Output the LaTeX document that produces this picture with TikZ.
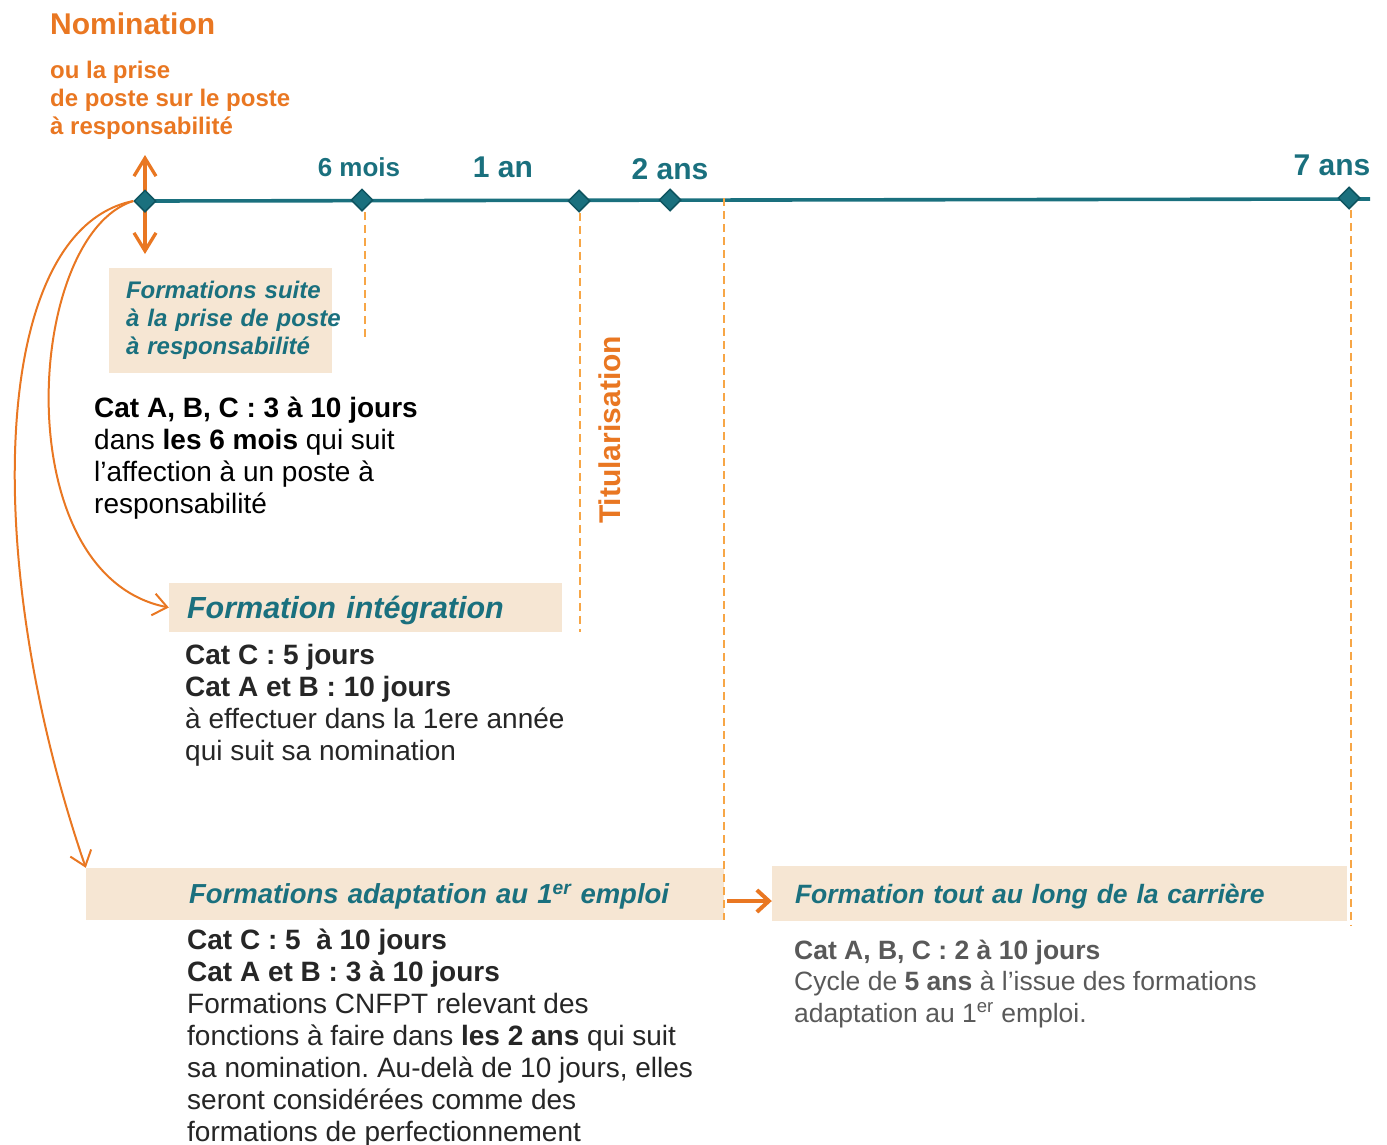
\documentclass[tikz,border=0pt]{standalone}
\usepackage{xcolor}
\usepackage{fontspec}
\setmainfont{Liberation Sans}
\frenchspacing
\usetikzlibrary{shapes.geometric, arrows.meta, positioning}

\definecolor{bleucanard}{RGB}{26,112,126}
\definecolor{bleufonce}{RGB}{14,84,96}
\definecolor{orangevif}{RGB}{233,119,34}
\definecolor{orangeclair}{RGB}{247,166,70}
\definecolor{beige}{RGB}{246,230,211}
\definecolor{grisfonce}{RGB}{38,38,38}
\definecolor{grismoyen}{RGB}{89,89,89}

\begin{document}
\begin{tikzpicture}[x=1pt, y=-1pt,
    jalon/.style={diamond, aspect=1, fill=bleucanard, draw=bleufonce, line width=1.5pt, minimum size=22pt, inner sep=0pt},
    duree/.style={text=bleucanard, font=\fontsize{30}{34}\selectfont\bfseries, inner sep=0pt, anchor=base},
    encadre/.style={fill=beige, text=bleucanard, inner xsep=0pt, inner ysep=0pt, align=left},
    corps/.style={inner sep=0pt, anchor=base west, align=left, font=\fontsize{28}{32}\selectfont},
    tiret/.style={orangeclair, line width=2pt, dash pattern=on 8pt off 5pt},
    courbe/.style={orangevif, line width=2pt, -{Straight Barb[length=14pt, width=22pt]}}]
        \useasboundingbox (0,0) rectangle (1387,1144);

        \coordinate (debut) at (145,201);
        \coordinate (fin)   at (1370,199);
        \draw[bleucanard, line width=3.6pt] (debut) -- (fin);
        \coordinate (haut) at (145,155);
        \coordinate (bas)  at (145,254);
        \draw[orangevif, line width=3.3pt, {Straight Barb[length=18pt, width=22pt]}-{Straight Barb[length=18pt, width=22pt]}] (haut) -- (bas);

        \node[jalon] (t0)  at (145,201)  {};
        \node[jalon] (t6)  at (362,200)  {};
        \node[jalon] (t12) at (579,201)  {};
        \node[jalon] (t24) at (670,200)  {};
        \node[jalon] (t84) at (1349,198) {};

        \node[duree, font=\fontsize{26}{30}\selectfont\bfseries] (l6) at (359,176) {6 mois};
        \node[duree] (l12) at (503,177)  {1 an};
        \node[duree] (l24) at (670,179)  {2 ans};
        \node[duree] (l84) at (1332,175) {7 ans};

        \node[corps, text=orangevif, font=\fontsize{30}{34}\selectfont\bfseries] (nomin) at (50,34) {Nomination};
        \node[corps, text=orangevif, font=\fontsize{24}{28}\selectfont\bfseries] (prise) at (50,134)
          {ou la prise\\de poste sur le poste\\à responsabilité};

        \node[encadre, font=\fontsize{24}{28}\selectfont\bfseries\itshape, text width=189pt,
          minimum width=223pt, minimum height=105pt] (suite) at (220.5,320.5)
          {\mbox{Formations suite}\\\mbox{à la prise de poste}\\\mbox{à responsabilité}};
        \node[encadre, font=\fontsize{30.5}{34}\selectfont\bfseries\itshape, text width=357pt, text depth=0pt,
          minimum width=393pt, minimum height=49pt] (integ) at (365.5,607.5) {Formation intégration};
        \node[encadre, font=\fontsize{27.5}{32}\selectfont\bfseries\itshape, text width=432pt, text depth=0pt,
          minimum width=638pt, minimum height=52pt] (adapt) at (405,894)
          {\mbox{Formations adaptation au 1\textsuperscript{er} emploi}};
        \node[encadre, font=\fontsize{26.5}{30}\selectfont\bfseries\itshape, text width=529pt, text depth=0pt,
          minimum width=575pt, minimum height=55pt] (carriere) at (1059.5,893.5)
          {Formation tout au long de la carrière};

        \node[rotate=90, anchor=base west, inner sep=0pt, text=orangevif,
          font=\fontsize{30}{34}\selectfont\bfseries] (titul) at (620,524) {Titularisation};

        \coordinate (b6)  at (365,340);
        \coordinate (b12) at (580,632);
        \coordinate (h24) at (724,198);
        \coordinate (b84) at (1351,925);
        \draw[tiret] (t6.south -| b6) -- (b6);
        \draw[tiret] (t12.south -| b12) -- (b12);
        \draw[tiret] (h24) -- (h24 |- adapt.south);
        \draw[tiret] (t84.south -| b84) -- (b84);

        \node[corps] (txtsuite) at (94,513)
          {\textbf{Cat A, B, C : 3 à 10 jours}\\dans \textbf{les 6 mois} qui suit\\l’affection à un poste à\\responsabilité};
        \node[corps, text=grisfonce] (txtinteg) at (185,760)
          {\textbf{Cat C : 5 jours}\\\textbf{Cat A et B : 10 jours}\\à effectuer dans la 1ere année\\qui suit sa nomination};
        \node[corps, text=grisfonce] (txtadapt) at (187,1141)
          {\textbf{Cat C : 5~~à 10 jours}\\\textbf{Cat A et B : 3 à 10 jours}\\Formations CNFPT relevant des\\fonctions à faire dans \textbf{les 2 ans} qui suit\\sa nomination. Au-delà de 10 jours, elles\\seront considérées comme des\\formations de perfectionnement};
        \node[corps, text=grismoyen, font=\fontsize{26.5}{31.5}\selectfont] (txtcarriere) at (794,1022)
          {\textbf{Cat A, B, C : 2 à 10 jours}\\Cycle de \textbf{5 ans} à l’issue des formations\\adaptation au 1\textsuperscript{er} emploi.};

        \draw[courbe] (t0.west) .. controls (25,235) and (5,575) .. (integ.west);
        \draw[courbe] (t0.west) .. controls (-10,230) and (-20,560) .. (adapt.north west);
        \draw[orangevif, line width=4pt, shorten <=3pt, -{Straight Barb[length=12pt, width=22pt]}]
          ([yshift=-7pt]adapt.east) -- ([yshift=-7pt]adapt.east -| carriere.west);
\end{tikzpicture}
\end{document}
